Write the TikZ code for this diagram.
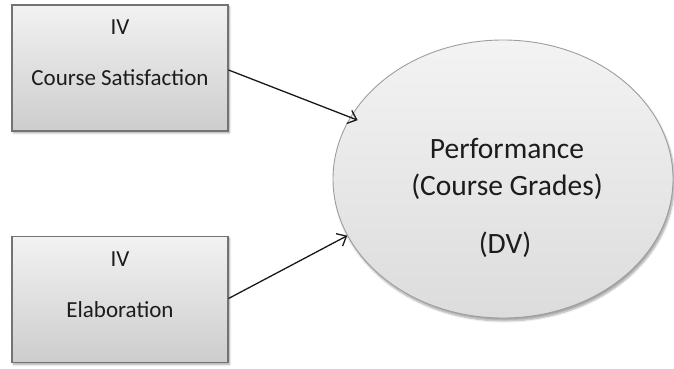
\documentclass[tikz,border=0pt]{standalone}
\usepackage{fontspec}
\setmainfont{Carlito}
\usetikzlibrary{arrows.meta,shadows.blur,shapes.geometric,calc}

\definecolor{boxtop}{HTML}{F2F2F2}
\definecolor{boxbot}{HTML}{CDCDCD}
\definecolor{ovaltop}{HTML}{F3F3F3}
\definecolor{ovalbot}{HTML}{DCDCDC}
\definecolor{ink}{HTML}{1C1C1C}

\tikzset{
  x=1pt, y=1pt,
  varbox/.style={draw=black!55, line width=1.1pt, rectangle,
    top color=boxtop, bottom color=boxbot,
    minimum width=216pt, minimum height=126pt, inner sep=0pt,
    blur shadow={shadow xshift=1.5pt, shadow yshift=-2pt, shadow opacity=35, shadow blur steps=6}},
  oval/.style={draw=black!38, line width=0.9pt, ellipse,
    top color=ovaltop, bottom color=ovalbot,
    minimum width=340pt, minimum height=278pt, inner sep=0pt,
    blur shadow={shadow xshift=1.5pt, shadow yshift=-3pt, shadow opacity=35, shadow blur steps=6}},
  boxtext/.style={text=ink, font=\fontsize{23}{27}\selectfont, inner sep=0pt},
  ovaltext/.style={text=ink, font=\fontsize{29.5}{34}\selectfont, inner sep=0pt},
  link/.style={draw=black!90, line width=1.3pt,
    -{Straight Barb[length=8pt, width=14pt, line width=1.3pt]}}
}

\begin{document}
\begin{tikzpicture}
  \useasboundingbox (0,0) rectangle (674,368);

  % independent variables
  \node[varbox] (sat) at (120,300) {};
  \node[varbox] (elab) at (120,68.5) {};
  \node[boxtext] (sativ) at ($(sat.north)+(0,-23)$) {IV};
  \node[boxtext] (satname) at ($(sat.north)+(0,-73)$) {Course Satisfaction};
  \node[boxtext] (elabiv) at ($(elab.north)+(0,-23)$) {IV};
  \node[boxtext] (elabname) at ($(elab.north)+(0,-74)$) {Elaboration};

  % dependent variable
  \node[oval] (dv) at (503,189) {};
  \node[ovaltext] (perf) at ($(dv.center)+(4,31)$) {Performance};
  \node[ovaltext] (grades) at ($(dv.center)+(4,-8)$) {(Course Grades)};
  \node[ovaltext] (dvtag) at ($(dv.center)+(2,-66)$) {(DV)};

  % relations
  \draw[link, shorten >=-8pt] ($(sat.east)+(0,-2)$) -- (dv.158);
  \draw[link] ($(elab.east)+(0,1)$) -- (dv.200.6);
\end{tikzpicture}
\end{document}
